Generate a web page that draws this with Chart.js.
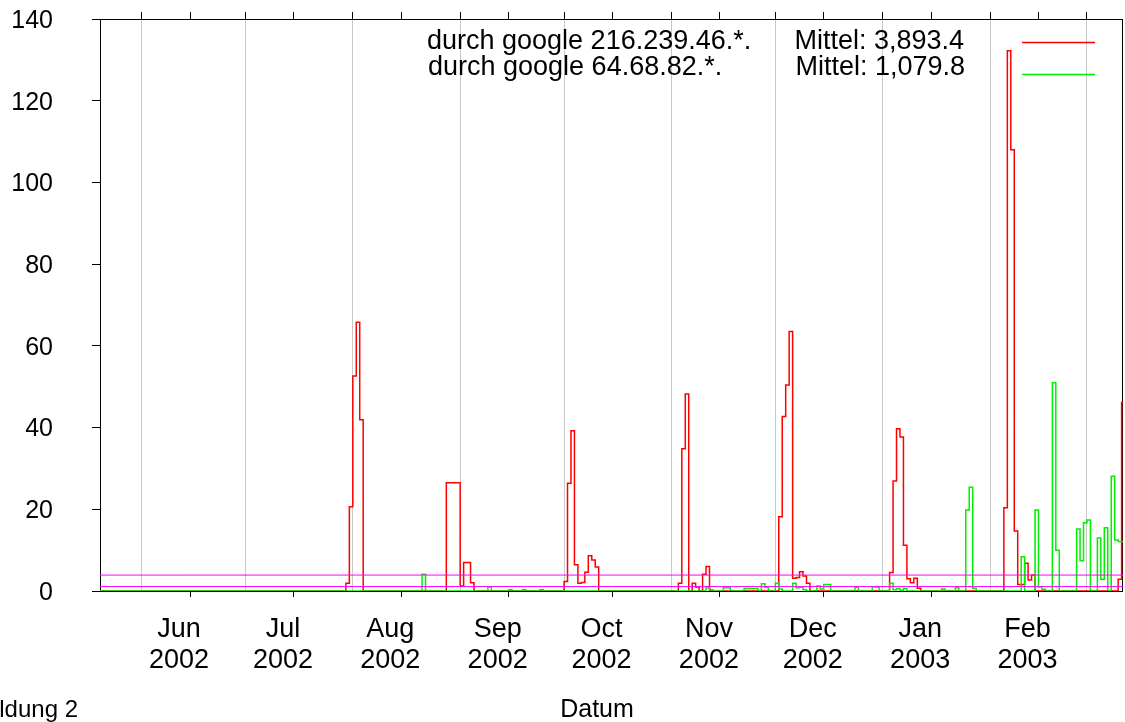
<!DOCTYPE html>
<html>
<head>
<meta charset="utf-8">
<script src="https://cdn.jsdelivr.net/npm/chart.js@4/dist/chart.umd.min.js"></script>
<style>
  body { margin: 0; background: #fff; }
  canvas { display: block; }
</style>
</head>
<body>
<canvas id="chart" width="1125" height="722"></canvas>
<script>
// Tage werden ab dem 1. Juni 2002 gezählt
const dayOf = s => (Date.UTC(+s.slice(0, 4), +s.slice(5, 7) - 1, +s.slice(8, 10)) - Date.UTC(2002, 5, 1)) / 86400000;

// Achsenbereich
const rangeStart = '2002-05-20';
const rangeEnd = '2003-03-11';

// Monatsanfänge (Gitterlinien) und Monatsmitte (Beschriftung)
const monthStarts = ['2002-06-01', '2002-07-01', '2002-08-01', '2002-09-01', '2002-10-01',
    '2002-11-01', '2002-12-01', '2003-01-01', '2003-02-01', '2003-03-01'];
const labelDates = ['2002-06-15', '2002-07-15', '2002-08-15', '2002-09-15', '2002-10-15',
    '2002-11-15', '2002-12-15', '2003-01-15', '2003-02-15'];
const tickLabels = [['Jun', '2002'], ['Jul', '2002'], ['Aug', '2002'], ['Sep', '2002'], ['Oct', '2002'],
    ['Nov', '2002'], ['Dec', '2002'], ['Jan', '2003'], ['Feb', '2003']];

// Reihe 1: durch google 216.239.46.*. (Wert gilt ab dem Datum)
const redDates = [
    '2002-07-30', '2002-07-31', '2002-08-01', '2002-08-02', '2002-08-03', '2002-08-04',
    '2002-08-28', '2002-09-01', '2002-09-02', '2002-09-04', '2002-09-05',
    '2002-10-01', '2002-10-02', '2002-10-03', '2002-10-04', '2002-10-05', '2002-10-06',
    '2002-10-07', '2002-10-08', '2002-10-09', '2002-10-10', '2002-10-11',
    '2002-11-03', '2002-11-04', '2002-11-05', '2002-11-06', '2002-11-07', '2002-11-08',
    '2002-11-09', '2002-11-10', '2002-11-11', '2002-11-12',
    '2002-12-02', '2002-12-03', '2002-12-04', '2002-12-05', '2002-12-06', '2002-12-07',
    '2002-12-08', '2002-12-09', '2002-12-10', '2002-12-11',
    '2003-01-03', '2003-01-04', '2003-01-05', '2003-01-06', '2003-01-07', '2003-01-08',
    '2003-01-09', '2003-01-10', '2003-01-11', '2003-01-12',
    '2003-02-05', '2003-02-06', '2003-02-07', '2003-02-08', '2003-02-09', '2003-02-11',
    '2003-02-12', '2003-02-13', '2003-02-14',
    '2003-03-10', '2003-03-11'
];
const redValues = [
    1.9, 20.6, 52.6, 65.8, 41.9, 0,
    26.5, 1.2, 7.0, 2.0, 0,
    2.3, 26.4, 39.2, 6.4, 1.9, 2.1,
    4.6, 8.6, 7.6, 5.9, 0,
    1.9, 34.8, 48.2, 0, 1.9, 1.0,
    0, 4.1, 6.0, 0,
    18.2, 42.7, 50.4, 63.5, 3.1, 3.3,
    4.7, 3.7, 1.9, 0,
    4.5, 26.9, 39.7, 37.7, 11.2, 3.0,
    2.0, 3.1, 0.7, 0,
    20.4, 132.2, 108.0, 14.7, 1.6, 6.8,
    2.7, 3.9, 0,
    2.9, 46.2
];

// Reihe 2: durch google 64.68.82.*.
const greenDates = [
    '2002-08-21', '2002-08-22', '2002-09-09', '2002-09-10', '2002-09-15', '2002-09-16',
    '2002-09-19', '2002-09-20', '2002-09-24', '2002-09-25',
    '2002-11-11', '2002-11-12', '2002-11-13', '2002-11-16', '2002-11-18', '2002-11-22',
    '2002-11-26', '2002-11-27', '2002-11-28', '2002-11-29',
    '2002-12-01', '2002-12-02', '2002-12-03', '2002-12-06', '2002-12-07', '2002-12-08',
    '2002-12-09', '2002-12-10', '2002-12-13', '2002-12-14', '2002-12-15', '2002-12-17',
    '2002-12-24', '2002-12-25', '2002-12-29', '2002-12-31',
    '2003-01-03', '2003-01-04', '2003-01-05', '2003-01-06', '2003-01-07', '2003-01-08',
    '2003-01-18', '2003-01-19', '2003-01-22', '2003-01-23',
    '2003-01-25', '2003-01-26', '2003-01-27', '2003-01-28',
    '2003-02-10', '2003-02-11', '2003-02-14', '2003-02-15', '2003-02-16', '2003-02-17',
    '2003-02-19', '2003-02-20', '2003-02-21',
    '2003-02-26', '2003-02-27', '2003-02-28', '2003-03-01', '2003-03-02',
    '2003-03-04', '2003-03-05', '2003-03-06', '2003-03-07',
    '2003-03-08', '2003-03-09', '2003-03-10'
];
const greenValues = [
    4.1, 0, 1.0, 0, 0.3, 0,
    0.3, 0, 0.3, 0,
    0.8, 0.3, 0, 0.8, 0, 0.6,
    0, 1.8, 0.9, 0,
    1.9, 0.5, 0, 1.9, 0.8, 0.9,
    0.3, 0, 1.2, 0.5, 1.6, 0,
    0.9, 0, 1.0, 0,
    1.9, 0.3, 0.6, 0.2, 0.6, 0,
    0.5, 0, 0.8, 0,
    19.8, 25.4, 0.7, 0,
    8.4, 0, 19.8, 1.0, 0.4, 0,
    51.0, 10.0, 0,
    15.2, 7.4, 16.7, 17.4, 0,
    13.0, 2.9, 15.5, 0,
    28.1, 12.5, 12.1
];

// Legende
const seriesNames = ['durch google 216.239.46.*.', 'durch google 64.68.82.*.'];
const meanLabels = ['Mittel: 3,893.4', 'Mittel: 1,079.8'];
const meanValues = [3.8934, 1.0798];

const xMin = dayOf(rangeStart);
const xMax = dayOf(rangeEnd) + 0.4;
const gridDays = monthStarts.map(dayOf);
const labelDays = labelDates.map(dayOf);

// Stufenreihe aus Änderungspunkten
function stepSeries(dates, values) {
    const pts = [{ x: xMin - 1, y: 0 }];
    dates.forEach((d, i) => pts.push({ x: dayOf(d), y: values[i] }));
    pts.push({ x: xMax + 1, y: values[values.length - 1] });
    return pts;
}

const FONT = '"Liberation Sans", Arial, sans-serif';
Chart.defaults.font.family = FONT;

// Rahmen um die Zeichenfläche
const framePlugin = {
    id: 'frame',
    beforeDatasetsDraw(chart) {
        const { ctx, chartArea: a } = chart;
        ctx.save();
        ctx.strokeStyle = '#000';
        ctx.lineWidth = 1;
        ctx.strokeRect(a.left + 0.5, a.top + 0.5, a.right - a.left - 1, a.bottom - a.top);
        ctx.restore();
    }
};

// Legende im gnuplot-Stil und Beschriftungen
const keyPlugin = {
    id: 'key',
    afterDraw(chart) {
        const ctx = chart.ctx;
        const colors = [chart.data.datasets[0].borderColor, chart.data.datasets[1].borderColor];
        const textY = [42, 68];
        const lineY = [42.5, 74.5];
        ctx.save();
        ctx.font = '27px ' + FONT;
        ctx.fillStyle = '#000';
        ctx.textBaseline = 'middle';
        seriesNames.forEach((name, i) => {
            ctx.textAlign = 'left';
            ctx.fillText(name, 427 + i, textY[i]);
            ctx.textAlign = 'right';
            ctx.fillText(meanLabels[i], 964 + i, textY[i]);
            ctx.strokeStyle = colors[i];
            ctx.lineWidth = 1.3;
            ctx.beginPath();
            ctx.moveTo(1022, lineY[i]);
            ctx.lineTo(1095, lineY[i]);
            ctx.stroke();
        });
        ctx.textBaseline = 'alphabetic';
        ctx.font = '25px ' + FONT;
        ctx.textAlign = 'center';
        ctx.fillText('Datum', 597, 717);
        ctx.font = '24px ' + FONT;
        ctx.textAlign = 'right';
        ctx.fillText('Abbildung 2', 78, 717);
        ctx.restore();
    }
};

const lineStyle = { stepped: true, pointRadius: 0, borderWidth: 1.5, fill: false };

new Chart(document.getElementById('chart'), {
    type: 'line',
    data: {
        datasets: [
            { label: seriesNames[0], data: stepSeries(redDates, redValues), borderColor: '#ff0000', order: 3, ...lineStyle },
            { label: seriesNames[1], data: stepSeries(greenDates, greenValues), borderColor: '#00ee00', order: 2, ...lineStyle },
            { label: meanLabels[0], data: [{ x: xMin - 1, y: meanValues[0] }, { x: xMax + 1, y: meanValues[0] }], borderColor: '#ff00ff', borderWidth: 1, pointRadius: 0, order: 1 },
            { label: meanLabels[1], data: [{ x: xMin - 1, y: meanValues[1] }, { x: xMax + 1, y: meanValues[1] }], borderColor: '#ff00ff', borderWidth: 1, pointRadius: 0, order: 1 }
        ]
    },
    options: {
        responsive: false,
        animation: false,
        devicePixelRatio: 1,
        layout: { padding: { left: 0, top: 0, right: 2, bottom: 0 } },
        plugins: { legend: { display: false }, tooltip: { enabled: false } },
        scales: {
            x: {
                type: 'linear',
                position: 'bottom',
                min: xMin,
                max: xMax,
                afterBuildTicks: s => { s.ticks = labelDays.map(v => ({ value: v })); },
                afterFit: s => { s.height = 131; s.paddingLeft = 0; s.paddingRight = 0; },
                ticks: {
                    autoSkip: false,
                    maxRotation: 0,
                    callback: (v, i) => tickLabels[i],
                    color: '#000',
                    font: { size: 27, lineHeight: 1.15 },
                    padding: 17,
                    labelOffset: -11
                },
                grid: { drawOnChartArea: false, tickLength: 6, color: '#000' },
                border: { display: false }
            },
            x2: {
                type: 'linear',
                position: 'top',
                min: xMin,
                max: xMax,
                afterBuildTicks: s => {
                    s.ticks = gridDays.concat(labelDays).sort((a, b) => a - b).map(v => ({ value: v }));
                },
                afterFit: s => { s.height = 19; s.paddingLeft = 0; s.paddingRight = 0; },
                ticks: { display: false },
                grid: {
                    color: c => gridDays.includes(c.tick && c.tick.value) ? '#c8c8c8' : 'rgba(0,0,0,0)',
                    tickColor: '#000',
                    tickLength: 7
                },
                border: { display: false }
            },
            y: {
                min: 0,
                max: 140,
                afterFit: s => { s.width = 100; s.paddingTop = 0; s.paddingBottom = 0; },
                ticks: {
                    stepSize: 20,
                    color: '#000',
                    font: { size: 25 },
                    padding: 39,
                    labelOffset: 2
                },
                grid: { drawOnChartArea: false, tickLength: 8, color: '#000' },
                border: { display: false }
            }
        }
    },
    plugins: [framePlugin, keyPlugin]
});
</script>
</body>
</html>
